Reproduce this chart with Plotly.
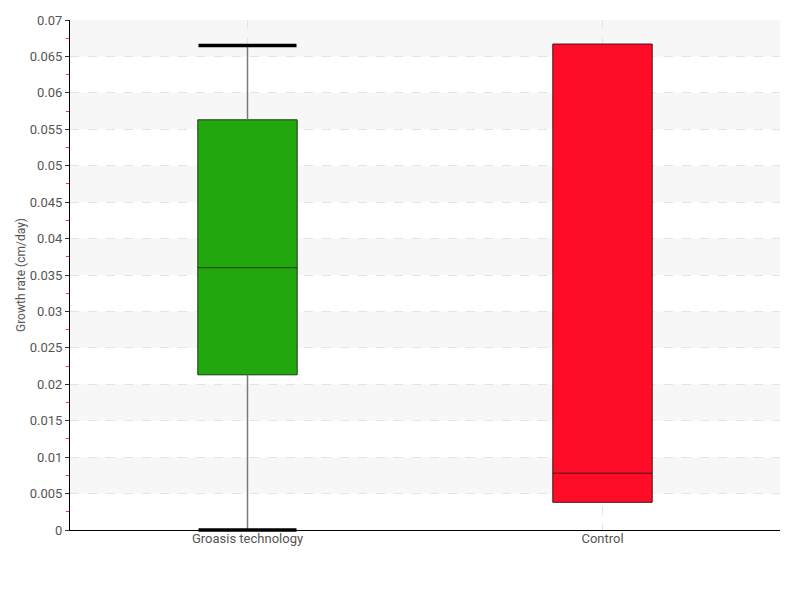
import plotly.graph_objects as go

categories = ["Groasis technology", "Control"]
lower_fence = [0.0, 0.0038]
q1 = [0.0213, 0.0038]
median = [0.0360, 0.0078]
q3 = [0.0563, 0.0667]
upper_fence = [0.0665, 0.0667]
fill_colors = ["#22a70f", "#ff0d28"]
line_colors = ["#1d3b12", "#4a1216"]
y_ticks = [i * 0.005 for i in range(15)]

FONT = "Roboto, sans-serif"

fig = go.Figure()

# whisker stems (gray) drawn below boxes
for i, c in enumerate(categories):
    if upper_fence[i] > q3[i] or lower_fence[i] < q1[i]:
        fig.add_trace(go.Scatter(
            x=[c, c, None, c, c],
            y=[lower_fence[i], q1[i], None, q3[i], upper_fence[i]],
            mode="lines", line=dict(color="#7a7a7a", width=1.5),
            hoverinfo="skip", showlegend=False))

for i, c in enumerate(categories):
    fig.add_trace(go.Box(
        x=[c], q1=[q1[i]], median=[median[i]], q3=[q3[i]],
        lowerfence=[q1[i]], upperfence=[q3[i]],
        fillcolor=fill_colors[i], line=dict(color=line_colors[i], width=1),
        width=0.28, whiskerwidth=0, boxpoints=False, showlegend=False, name=c))

# whisker caps (thick black)
for i, c in enumerate(categories):
    if upper_fence[i] > q3[i] or lower_fence[i] < q1[i]:
        fig.add_trace(go.Scatter(
            x=[c, c], y=[lower_fence[i], upper_fence[i]], mode="markers",
            marker=dict(symbol="line-ew-open", size=70, color="black",
                        line=dict(color="black", width=3.5)),
            hoverinfo="skip", showlegend=False, cliponaxis=False))

# alternating background bands
for k in range(1, len(y_ticks), 2):
    fig.add_shape(type="rect", xref="paper", yref="y", x0=0, x1=1,
                  y0=y_ticks[k], y1=y_ticks[k + 1] if k + 1 < len(y_ticks) else 0.07,
                  fillcolor="#f7f7f7", line_width=0, layer="below")

fig.update_layout(
    width=792, height=592,
    margin=dict(l=62, r=20, t=12, b=70),
    plot_bgcolor="rgba(0,0,0,0)", paper_bgcolor="white",
    boxmode="overlay",
    font=dict(family=FONT, size=13, color="#555555"),
    xaxis=dict(type="category", categoryorder="array", categoryarray=categories,
               range=[-0.5, 1.5], showline=True, linecolor="black", linewidth=1,
               showgrid=True, gridcolor="#e4e4e4", griddash="dash", gridwidth=1,
               ticks="", tickfont=dict(size=13, color="#555555"), zeroline=False,
               automargin=False, ticklabelstandoff=-4),
    yaxis=dict(range=[0, 0.07], tickvals=y_ticks,
               ticktext=[("%g" % round(v, 3)) for v in y_ticks],
               showline=True, linecolor="black", linewidth=1,
               ticks="outside", ticklen=4, tickcolor="#333333",
               showgrid=True, gridcolor="#e4e4e4", griddash="dash", gridwidth=1,
               zeroline=False, automargin=False,
               minor=dict(dtick=0.0025, tick0=0, ticks="outside", ticklen=3,
                          tickcolor="#ff3030", showgrid=False),
               title=dict(text="Growth rate (cm/day)", font=dict(size=12, color="#555555"),
                          standoff=1),
               tickfont=dict(size=13, color="#555555")),
)

fig.write_html("out.html")
